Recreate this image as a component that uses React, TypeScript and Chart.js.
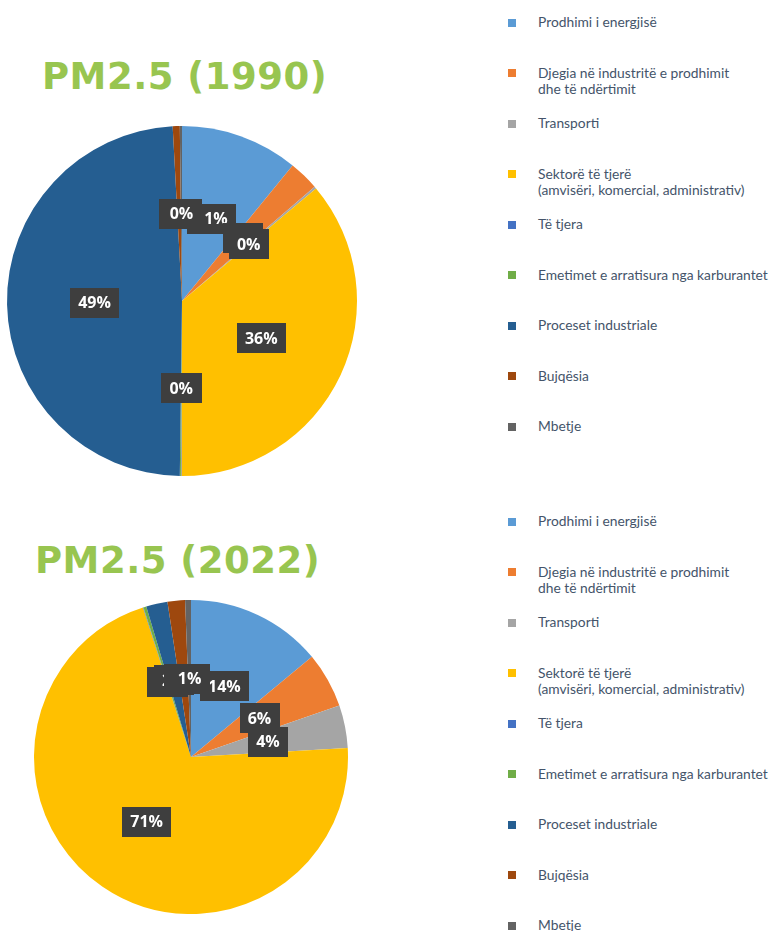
import React, { useEffect, useRef } from "react";
import { Chart, registerables } from "chart.js";

Chart.register(...registerables);

const categories: string[][] = [
  ["Prodhimi i energjisë"],
  ["Djegia në industritë e prodhimit", "dhe të ndërtimit"],
  ["Transporti"],
  ["Sektorë të tjerë", "(amvisëri, komercial, administrativ)"],
  ["Të tjera"],
  ["Emetimet e arratisura nga karburantet"],
  ["Proceset industriale"],
  ["Bujqësia"],
  ["Mbetje"],
];

const colors = [
  "#5B9BD5",
  "#ED7D31",
  "#A5A5A5",
  "#FFC000",
  "#4472C4",
  "#70AD47",
  "#255E91",
  "#9E480E",
  "#636363",
];

const values1990 = [10.9, 2.8, 0.2, 36.2, 0.05, 0.1, 49.0, 0.65, 0.2];
const values2022 = [14.0, 5.7, 4.4, 71.0, 0.05, 0.3, 2.2, 1.8, 0.6];

const title1990 = "PM2.5 (1990)";
const title2022 = "PM2.5 (2022)";

const pctLabels = {
  id: "pctLabels",
  afterDatasetsDraw(chart: any) {
    const ctx = chart.ctx as CanvasRenderingContext2D;
    const meta = chart.getDatasetMeta(0);
    const data = chart.data.datasets[0].data as number[];
    const total = data.reduce((a, b) => a + b, 0);
    ctx.save();
    ctx.font = 'bold 16px "Open Sans"';
    ctx.textAlign = "center";
    ctx.textBaseline = "middle";
    meta.data.forEach((arc: any, i: number) => {
      const p = arc.getProps(["x", "y", "startAngle", "endAngle", "outerRadius"], true);
      const mid = (p.startAngle + p.endAngle) / 2;
      const lx = p.x + Math.cos(mid) * p.outerRadius * 0.5;
      const ly = p.y + Math.sin(mid) * p.outerRadius * 0.5;
      const txt = Math.round((data[i] / total) * 100) + "%";
      const w = ctx.measureText(txt).width + 16;
      const h = 30;
      ctx.fillStyle = "#3E3E3E";
      ctx.fillRect(Math.round(lx - w / 2), Math.round(ly - h / 2), Math.round(w), h);
      ctx.fillStyle = "#FFFFFF";
      ctx.fillText(txt, lx, ly + 1);
    });
    ctx.restore();
  },
};

function Pie({ values, radius, size }: { values: number[]; radius: number; size: number }) {
  const ref = useRef<HTMLCanvasElement>(null);
  useEffect(() => {
    if (!ref.current) return;
    const chart = new Chart(ref.current, {
      type: "pie",
      data: {
        labels: categories.map((c) => c.join(" ")),
        datasets: [
          {
            data: values,
            backgroundColor: colors,
            borderWidth: 0,
          },
        ],
      },
      options: {
        responsive: false,
        animation: false,
        radius: radius,
        layout: { padding: 0 },
        plugins: { legend: { display: false }, tooltip: { enabled: false } },
      } as any,
      plugins: [pctLabels],
    });
    return () => chart.destroy();
  }, [values, radius]);
  return <canvas ref={ref} width={size} height={size} style={{ width: size, height: size, display: "block" }} />;
}

function Legend({ top }: { top: number }) {
  return (
    <>
      {categories.map((lines, i) => {
        const cy = top + i * 50.5;
        return (
          <React.Fragment key={i}>
            <div
              style={{
                position: "absolute",
                left: 508,
                top: cy - 4,
                width: 8,
                height: 8,
                background: colors[i],
              }}
            />
            <div
              style={{
                position: "absolute",
                left: 538,
                top: cy - 8.5,
                fontFamily: "Lato, sans-serif",
                fontSize: 13.8,
                lineHeight: "16.5px",
                color: "#44546A",
                whiteSpace: "nowrap",
              }}
            >
              {lines.map((l, j) => (
                <div key={j}>{l}</div>
              ))}
            </div>
          </React.Fragment>
        );
      })}
    </>
  );
}

const titleStyle: React.CSSProperties = {
  position: "absolute",
  fontFamily: '"DejaVu Sans", sans-serif',
  fontWeight: "bold",
  fontSize: 37,
  lineHeight: "37px",
  letterSpacing: 0.5,
  color: "#98C550",
  whiteSpace: "nowrap",
};

export default function App() {
  return (
    <div style={{ position: "absolute", left: 0, top: 0, width: 772, height: 931, background: "#fff", overflow: "hidden" }}>
      <div style={{ ...titleStyle, left: 42, top: 58 }}>{title1990}</div>
      <div style={{ position: "absolute", left: 2, top: 121 }}>
        <Pie values={values1990} radius={175} size={360} />
      </div>
      <Legend top={22.7} />

      <div style={{ ...titleStyle, left: 35, top: 542 }}>{title2022}</div>
      <div style={{ position: "absolute", left: 34, top: 599.5 }}>
        <Pie values={values2022} radius={157} size={314} />
      </div>
      <Legend top={521.5} />
    </div>
  );
}
